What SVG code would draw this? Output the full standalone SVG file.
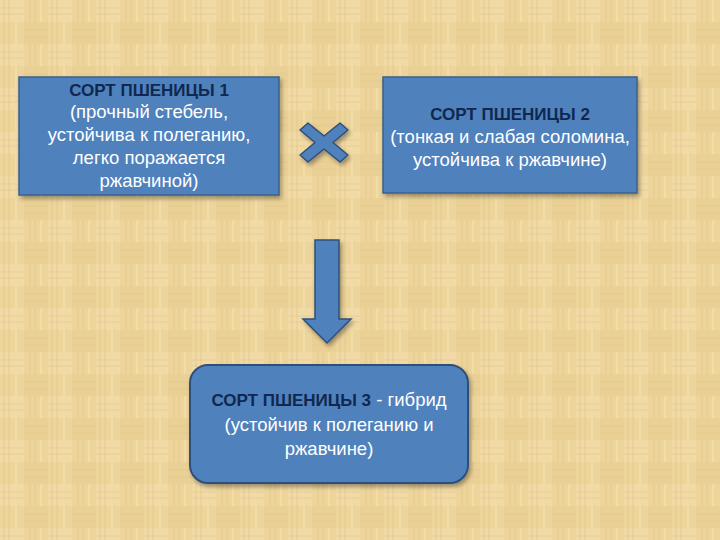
<svg xmlns="http://www.w3.org/2000/svg" width="720" height="540" viewBox="0 0 720 540">
<defs>
<pattern id="papyrus" width="48" height="44" patternUnits="userSpaceOnUse">
<rect width="48" height="44" fill="#EDD49A"/>
<rect x="0" y="0" width="24" height="22" fill="#F1DAA5"/>
<rect x="24" y="22" width="24" height="22" fill="#EAD095"/>
<path d="M4 0V44M9 0V44M30 0V22M35 0V22" stroke="#DDC081" stroke-width="1" opacity="0.6"/>
<path d="M0 8H24M0 14H24M24 30H48M24 37H48" stroke="#E0C586" stroke-width="1" opacity="0.6"/>
<path d="M16 22V44M41 0V22" stroke="#F6E4B6" stroke-width="1.5" opacity="0.7"/>
</pattern>
<filter id="sh" x="-10%" y="-10%" width="125%" height="130%">
<feDropShadow dx="2" dy="3" stdDeviation="2" flood-color="#000" flood-opacity="0.35"/>
</filter>
</defs>
<style>
.box{fill:#4F81BD;stroke:#3A5F8C;stroke-width:1.5;filter:url(#sh)}
.t{font-family:"Liberation Sans",Arial,sans-serif;font-size:18.5px;fill:#FFFFFF;text-anchor:middle}
.h{font-weight:bold;fill:#10284F;font-size:17px}
.shape{fill:#4F81BD;stroke:#2F4F7A;stroke-width:1.5;filter:url(#sh)}
</style>
<rect width="720" height="540" fill="url(#papyrus)"/>
<g id="sort1">
<rect class="box" x="19" y="77" width="260" height="118"/>
<text class="t"><tspan class="h" x="149" y="96">СОРТ ПШЕНИЦЫ 1</tspan><tspan x="149" y="118">(прочный стебель,</tspan><tspan x="149" y="141">устойчива к полеганию,</tspan><tspan x="149" y="164">легко поражается</tspan><tspan x="149" y="187">ржавчиной)</tspan></text>
</g>
<g id="sort2">
<rect class="box" x="383" y="77" width="254" height="116"/>
<text class="t"><tspan class="h" x="510" y="120">СОРТ ПШЕНИЦЫ 2</tspan><tspan x="510" y="143">(тонкая и слабая соломина,</tspan><tspan x="510" y="166">устойчива к ржавчине)</tspan></text>
</g>
<g id="cross">
<path class="shape" d="M300 130 L308 123 L324 136 L340 123 L348 130 L333 142.5 L348 155 L340 162 L324 149 L308 162 L300 155 L315 142.5 Z" stroke-linejoin="round"/>
</g>
<g id="connectors">
<path class="shape" d="M315 240 H339 V319 H351 L327 343 L303 319 H315 Z"/>
</g>
<g id="sort3">
<rect class="box" x="190" y="365" width="278" height="118" rx="18" style="stroke:#2F4F7A;stroke-width:2"/>
<text class="t"><tspan x="329" y="406"><tspan class="h">СОРТ ПШЕНИЦЫ 3</tspan> - гибрид</tspan><tspan x="329" y="431">(устойчив к полеганию и</tspan><tspan x="329" y="455">ржавчине)</tspan></text>
</g>
</svg>
